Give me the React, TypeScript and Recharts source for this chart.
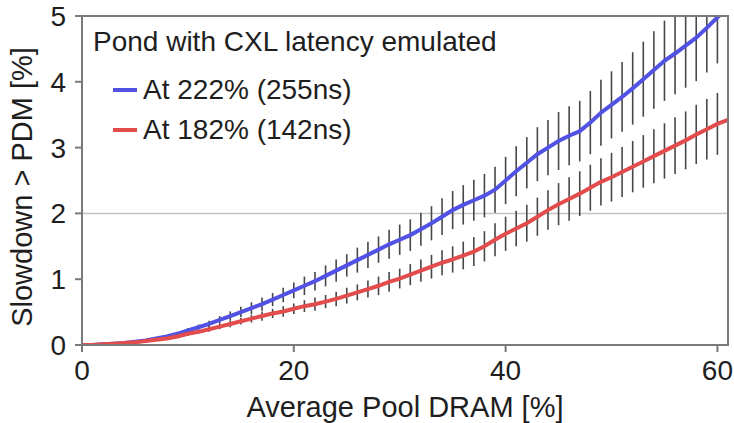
import React from "react"
import { LineChart, Line, XAxis, YAxis, ErrorBar, ReferenceLine } from "recharts"

const FONT = '"Liberation Sans", Arial, Helvetica, sans-serif'

// average pool DRAM [%]
const poolDram = [
  0, 1, 2, 3, 4, 5, 6, 7, 8, 9, 10, 11, 12, 13, 14, 15, 16, 17, 18, 19, 20,
  21, 22, 23, 24, 25, 26, 27, 28, 29, 30, 31, 32, 33, 34, 35, 36, 37, 38, 39, 40,
  41, 42, 43, 44, 45, 46, 47, 48, 49, 50, 51, 52, 53, 54, 55, 56, 57, 58, 59, 60, 61,
]

// slowdown at 222% (255ns)
const slow222 = [
  0, 0, 0.01, 0.02, 0.03, 0.05, 0.07, 0.1, 0.13, 0.17, 0.22,
  0.27, 0.32, 0.38, 0.44, 0.5, 0.56, 0.62, 0.69, 0.76, 0.83,
  0.9, 0.97, 1.05, 1.13, 1.21, 1.29, 1.37, 1.45, 1.53, 1.6,
  1.67, 1.76, 1.85, 1.95, 2.05, 2.13, 2.2, 2.27, 2.36, 2.5,
  2.64, 2.77, 2.9, 3.0, 3.1, 3.18, 3.25, 3.38, 3.53, 3.65,
  3.77, 3.9, 4.04, 4.18, 4.32, 4.43, 4.55, 4.67, 4.82, 4.98, 5.12,
]
const err222 = [
  0, 0, 0, 0.01, 0.01, 0.01, 0.01, 0.02, 0.02, 0.03, 0.04,
  0.04, 0.05, 0.06, 0.07, 0.08, 0.09, 0.1, 0.1, 0.11, 0.12,
  0.14, 0.14, 0.16, 0.17, 0.17, 0.19, 0.2, 0.2, 0.22, 0.23,
  0.24, 0.25, 0.26, 0.28, 0.29, 0.3, 0.31, 0.33, 0.35, 0.36,
  0.38, 0.39, 0.41, 0.42, 0.44, 0.45, 0.46, 0.48, 0.5, 0.51,
  0.53, 0.55, 0.57, 0.59, 0.61, 0.62, 0.64, 0.66, 0.68, 0.7, 0.72,
]

// slowdown at 182% (142ns)
const slow182 = [
  0, 0, 0.01, 0.02, 0.03, 0.04, 0.06, 0.08, 0.1, 0.13, 0.17,
  0.2, 0.24, 0.28, 0.32, 0.36, 0.4, 0.44, 0.48, 0.51, 0.55,
  0.59, 0.62, 0.66, 0.7, 0.75, 0.8, 0.85, 0.9, 0.96, 1.01,
  1.07, 1.13, 1.19, 1.25, 1.3, 1.36, 1.42, 1.5, 1.6, 1.69,
  1.77, 1.85, 1.95, 2.05, 2.14, 2.22, 2.3, 2.39, 2.48, 2.55,
  2.63, 2.71, 2.79, 2.87, 2.95, 3.03, 3.11, 3.2, 3.28, 3.36, 3.42,
]
const err182 = [
  0, 0, 0, 0, 0.01, 0.01, 0.01, 0.01, 0.02, 0.02, 0.03,
  0.03, 0.04, 0.04, 0.05, 0.05, 0.06, 0.07, 0.07, 0.08, 0.08,
  0.09, 0.1, 0.1, 0.11, 0.12, 0.12, 0.13, 0.14, 0.15, 0.15,
  0.16, 0.17, 0.18, 0.19, 0.2, 0.21, 0.22, 0.23, 0.25, 0.26,
  0.27, 0.28, 0.29, 0.3, 0.32, 0.33, 0.34, 0.35, 0.36, 0.37,
  0.38, 0.39, 0.4, 0.41, 0.42, 0.43, 0.44, 0.45, 0.46, 0.47, 0.48,
]

const xTicks = [0, 20, 40, 60]
const yTicks = [0, 1, 2, 3, 4, 5]

const BLUE = "#5151e3"
const RED = "#e24c4c"
const AXIS = "#7a7a7a"
const TEXT = "#1e1e1e"

const rows = poolDram.map((x, i) => ({
  x,
  s222: slow222[i],
  e222: err222[i],
  s182: slow182[i],
  e182: err182[i],
}))

function XTick({ x, y, payload }: any) {
  return (
    <text x={x} y={y + 26} textAnchor="middle" fill={TEXT} fontSize={28} fontFamily={FONT}>
      {payload.value}
    </text>
  )
}

function YTick({ x, y, payload }: any) {
  return (
    <text x={x} y={y + 10} textAnchor="end" fill={TEXT} fontSize={28} fontFamily={FONT}>
      {payload.value}
    </text>
  )
}

function LegendBox() {
  const row = (color: string, label: string, top: number) => (
    <div style={{ position: "absolute", left: 113, top, height: 32, display: "flex", alignItems: "center" }}>
      <span style={{ display: "inline-block", width: 24, height: 4, background: color, marginRight: 6 }} />
      <span>{label}</span>
    </div>
  )
  return (
    <div style={{ position: "absolute", left: 0, top: 0, fontFamily: FONT, fontSize: 28, lineHeight: "32px", color: TEXT, whiteSpace: "nowrap" }}>
      <div style={{ position: "absolute", left: 93, top: 26 }}>Pond with CXL latency emulated</div>
      {row(BLUE, "At 222% (255ns)", 74)}
      {row(RED, "At 182% (142ns)", 114)}
    </div>
  )
}

// plot frame (top and right edges); the white strip hides error bars above the plot
function Frame() {
  return (
    <>
      <div style={{ position: "absolute", left: 82, top: 0, width: 652, height: 15, background: "#fff" }} />
      <div
        style={{
          position: "absolute",
          left: 81,
          top: 15,
          width: 648,
          height: 331,
          boxSizing: "border-box",
          borderTop: `2px solid ${AXIS}`,
          borderRight: `2px solid ${AXIS}`,
          pointerEvents: "none",
        }}
      />
    </>
  )
}

export default function App() {
  return (
    <div style={{ position: "absolute", left: 0, top: 0, width: 734, height: 423, background: "#fff" }}>
      <LineChart width={734} height={423} data={rows} margin={{ top: 16, right: 6, bottom: 0, left: 0 }}>
        <ReferenceLine y={2} stroke="#c4c4c4" strokeWidth={1.5} />
        <XAxis
          type="number"
          dataKey="x"
          domain={[0, 61]}
          ticks={xTicks}
          height={78}
          tickSize={7}
          tickMargin={2}
          stroke={AXIS}
          strokeWidth={2}
          tick={<XTick />}
          label={{
            content: ({ viewBox }: any) => (
              <text x={viewBox.x + viewBox.width / 2} y={417} textAnchor="middle" fill={TEXT} fontSize={29} fontFamily={FONT}>
                Average Pool DRAM [%]
              </text>
            ),
          }}
        />
        <YAxis
          type="number"
          domain={[0, 5]}
          ticks={yTicks}
          allowDataOverflow
          width={82}
          tickSize={7}
          tickMargin={9}
          stroke={AXIS}
          strokeWidth={2}
          tick={<YTick />}
          label={{
            content: () => (
              <text x={32} y={187} transform="rotate(-90 32 187)" textAnchor="middle" fill={TEXT} fontSize={29} fontFamily={FONT}>
                {"Slowdown > PDM [%]"}
              </text>
            ),
          }}
        />
        <Line dataKey="s222" stroke={BLUE} strokeWidth={4} dot={false} activeDot={false} isAnimationActive={false}>
          <ErrorBar dataKey="e222" direction="y" width={0} stroke="#474747" strokeWidth={1.6} isAnimationActive={false} />
        </Line>
        <Line dataKey="s182" stroke={RED} strokeWidth={4} dot={false} activeDot={false} isAnimationActive={false}>
          <ErrorBar dataKey="e182" direction="y" width={0} stroke="#474747" strokeWidth={1.6} isAnimationActive={false} />
        </Line>
      </LineChart>
      <Frame />
      <LegendBox />
    </div>
  )
}
